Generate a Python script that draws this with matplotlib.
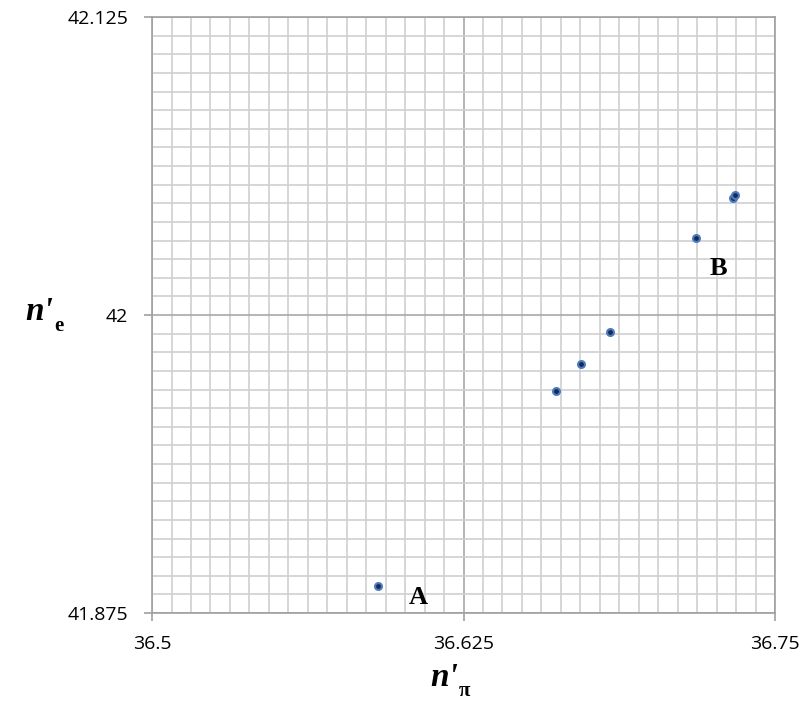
import numpy as np
import matplotlib.pyplot as plt
from matplotlib.ticker import MultipleLocator

n_pi = [36.5908, 36.6622, 36.6720, 36.6839, 36.7184, 36.7330, 36.7339]
n_e = [41.8863, 41.9681, 41.9793, 41.9929, 42.0323, 42.0491, 42.0502]
x_ticks = [36.5, 36.625, 36.75]
y_ticks = [41.875, 42.0, 42.125]
x_labels = ['36.5', '36.625', '36.75']
y_labels = ['41.875', '42', '42.125']

fig = plt.figure(figsize=(8.09, 7.09), dpi=100)
ax = fig.add_axes([0.188, 0.1354, 0.770, 0.8406])

ax.set_xlim(36.5, 36.75)
ax.set_ylim(41.875, 42.125)
ax.set_xticks(x_ticks)
ax.set_yticks(y_ticks)
ax.set_xticklabels(x_labels, family='Open Sans')
ax.set_yticklabels(y_labels, family='Open Sans')
ax.xaxis.set_minor_locator(MultipleLocator(0.25 / 32))
ax.yaxis.set_minor_locator(MultipleLocator(0.25 / 32))
ax.grid(which='minor', color='#d0d0d0', linewidth=1.2)
ax.grid(which='major', color='#a8a8a8', linewidth=1.2)
ax.set_axisbelow(True)
ax.tick_params(which='minor', length=0)
ax.tick_params(which='major', length=6, width=1.2, color='#a0a0a0', direction='out',
               labelsize=14)
ax.tick_params(axis='y', pad=11)
ax.tick_params(axis='x', pad=10)
for s in ax.spines.values():
    s.set_color('#a0a0a0')
    s.set_linewidth(1.2)

ax.plot(n_pi, n_e, 'o', linestyle='none', markersize=5, markerfacecolor='#1a2a50',
        markeredgecolor='#4a7cc4', markeredgewidth=1.5, clip_on=False)

ax.text(36.6067, 41.8813, 'A', family='Liberation Serif', weight='bold', fontsize=19,
        ha='center', va='center')
ax.text(36.7273, 42.0195, 'B', family='Liberation Serif', weight='bold', fontsize=19,
        ha='center', va='center')

fig.text(0.566, 0.032, "n'", family='Liberation Serif', weight='bold', style='italic',
         fontsize=24, ha='right', va='baseline')
fig.text(0.567, 0.018, "π", family='Liberation Serif', weight='bold', fontsize=15,
         ha='left', va='baseline')
fig.text(0.066, 0.548, "n'", family='Liberation Serif', weight='bold', style='italic',
         fontsize=24, ha='right', va='baseline')
fig.text(0.067, 0.533, "e", family='Liberation Serif', weight='bold', fontsize=15,
         ha='left', va='baseline')

fig.savefig('out.png', dpi=100)
